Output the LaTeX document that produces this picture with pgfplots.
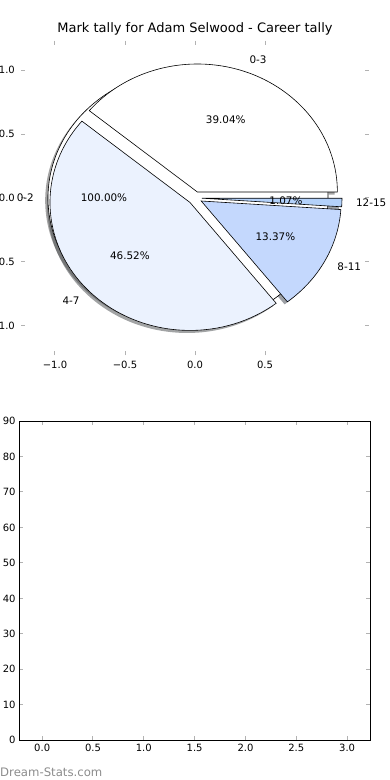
\documentclass[border=0pt]{standalone}
\usepackage{fontspec}
\setmainfont{DejaVu Sans}
\usepackage{pgfplots}
\pgfplotsset{compat=1.18}
\definecolor{cA}{HTML}{FFFFFF}
\definecolor{cB}{HTML}{EBF2FE}
\definecolor{cC}{HTML}{C4D8FD}
\definecolor{cD}{HTML}{B3D1FA}
\newcommand\explode{0.05}
% slice geometry from start percentage #1 and share #2
\newcommand\slicecalc[2]{%
  \pgfmathsetmacro\aA{3.6*#1}%
  \pgfmathsetmacro\aB{3.6*(#1+#2)}%
  \pgfmathsetmacro\aM{(\aA+\aB)/2}%
  \pgfmathsetmacro\cx{\explode*cos(\aM)}%
  \pgfmathsetmacro\cy{\explode*sin(\aM)}%
  \pgfmathsetmacro\xA{\cx+cos(\aA)}%
  \pgfmathsetmacro\yA{\cy+sin(\aA)}%
}
% #1 start, #2 share, #3 colour, #4 shadow dx, #5 shadow dy, #6 full(1)/wedge(0)
\newcommand\wedgepath[6]{%
  \slicecalc{#1}{#2}%
  \pgfmathsetmacro\Cx{\cx+#4}\pgfmathsetmacro\Cy{\cy+#5}%
  \pgfmathsetmacro\Ax{\xA+#4}\pgfmathsetmacro\Ay{\yA+#5}%
  \ifnum#6=1
    \edef\wstart{(axis cs:\Ax,\Ay)}%
  \else
    \edef\wstart{(axis cs:\Cx,\Cy) -- (axis cs:\Ax,\Ay)}%
  \fi
}
\newcommand\pieshadow[4]{%
  \wedgepath{#1}{#2}{#3}{-0.02}{-0.02}{#4}%
  \edef\next{\noexpand\fill[fill=#3!30!black, fill opacity=0.5] \wstart\space arc[start angle=\aA, end angle=\aB, x radius=1, y radius=1] -- cycle;}\next
}
\newcommand\piewedge[4]{%
  \wedgepath{#1}{#2}{#3}{0}{0}{#4}%
  \edef\next{\noexpand\filldraw[fill=#3, draw=black, line width=0.6pt] \wstart\space arc[start angle=\aA, end angle=\aB, x radius=1, y radius=1] -- cycle;}\next
}
\newcommand\pielabel[4]{%
  \slicecalc{#1}{#2}%
  \pgfmathsetmacro\lx{\cx+1.1*cos(\aM)}%
  \pgfmathsetmacro\ly{\cy+1.1*sin(\aM)}%
  \pgfmathsetmacro\qx{\cx+0.6*cos(\aM)}%
  \pgfmathsetmacro\qy{\cy+0.6*sin(\aM)}%
  \ifdim\lx pt>0pt \def\anc{west}\else\def\anc{east}\fi
  \edef\next{\noexpand\node[anchor=\anc, inner sep=0pt, font=\noexpand\pielabfont] at (axis cs:\lx,\ly) {#3};
    \noexpand\node[anchor=center, inner sep=0pt, font=\noexpand\pielabfont] at (axis cs:\qx,\qy) {#4};}\next
}
\newcommand\pielabfont{\fontsize{10.4}{12}\selectfont}
\newcommand\tickfont{\fontsize{10}{12}\selectfont}
\begin{document}
\begin{tikzpicture}
% ---------- top: pie ----------
\begin{axis}[
  at={(21.4pt,424.6pt)}, anchor=south west, scale only axis,
  width=347.2pt, height=314.8pt,
  xmin=-1.24, xmax=1.24, ymin=-1.23, ymax=1.23,
  xtick={-1,-0.5,0,0.5}, xticklabels={−1.0,−0.5,0.0,0.5},
  ytick={-1,-0.5,0,0.5,1}, yticklabels={−1.0,−0.5,0.0,0.5,1.0},
  axis line style={draw=none},
  tick align=inside, major tick length=4pt,
  tick style={black!30, line width=1pt},
  ticklabel style={font=\tickfont, inner sep=0pt},
  xticklabel style={anchor=base, yshift=-13.1pt},
  yticklabel style={anchor=east, xshift=-6.4pt},
  clip=false,
]
% shadows (drawn beneath every wedge)
\pieshadow{0}{100}{cA}{1}
\pieshadow{0}{39.04}{cA}{0}
\pieshadow{39.04}{46.52}{cB}{0}
\pieshadow{85.56}{13.37}{cC}{0}
\pieshadow{98.93}{1.07}{cD}{0}
% full 0-2 pie first, then the career pie
\piewedge{0}{100}{cA}{1}
\piewedge{0}{39.04}{cA}{0}
\piewedge{39.04}{46.52}{cB}{0}
\piewedge{85.56}{13.37}{cC}{0}
\piewedge{98.93}{1.07}{cD}{0}
% labels
\pielabel{0}{100}{0-2}{100.00\%}
\pielabel{0}{39.04}{0-3}{39.04\%}
\pielabel{39.04}{46.52}{4-7}{46.52\%}
\pielabel{85.56}{13.37}{8-11}{13.37\%}
\pielabel{98.93}{1.07}{12-15}{1.07\%}
\end{axis}
\node[anchor=base, font=\fontsize{13}{15}\selectfont] at (195pt,747pt) {Mark tally for Adam Selwood - Career tally};
% ---------- bottom: empty axis ----------
\begin{axis}[
  at={(19.3pt,39.7pt)}, anchor=south west, scale only axis,
  width=350.7pt, height=319.3pt,
  xmin=-0.225, xmax=3.225, ymin=0, ymax=90,
  xtick={0,0.5,1,1.5,2,2.5,3}, xticklabels={0.0,0.5,1.0,1.5,2.0,2.5,3.0},
  ytick={0,10,20,30,40,50,60,70,80,90},
  yticklabels={0,10,20,30,40,50,60,70,80,90},
  axis line style={black, line width=0.8pt},
  tick align=inside, major tick length=4pt,
  tick style={black!30, line width=1pt},
  ticklabel style={font=\tickfont, inner sep=0pt},
  xticklabel style={anchor=base, yshift=-11.5pt},
  yticklabel style={anchor=east, xshift=-3.5pt},
]
\addplot[draw=none, forget plot] coordinates {(0,0)};
\end{axis}
\node[anchor=base west, inner sep=0pt, text=black!45, font=\fontsize{11.7}{14}\selectfont] at (0pt,3.3pt) {Dream-Stats.com};
\pgfresetboundingbox
\path[use as bounding box] (0pt,0pt) rectangle (390pt,780pt);
\end{tikzpicture}
\end{document}
